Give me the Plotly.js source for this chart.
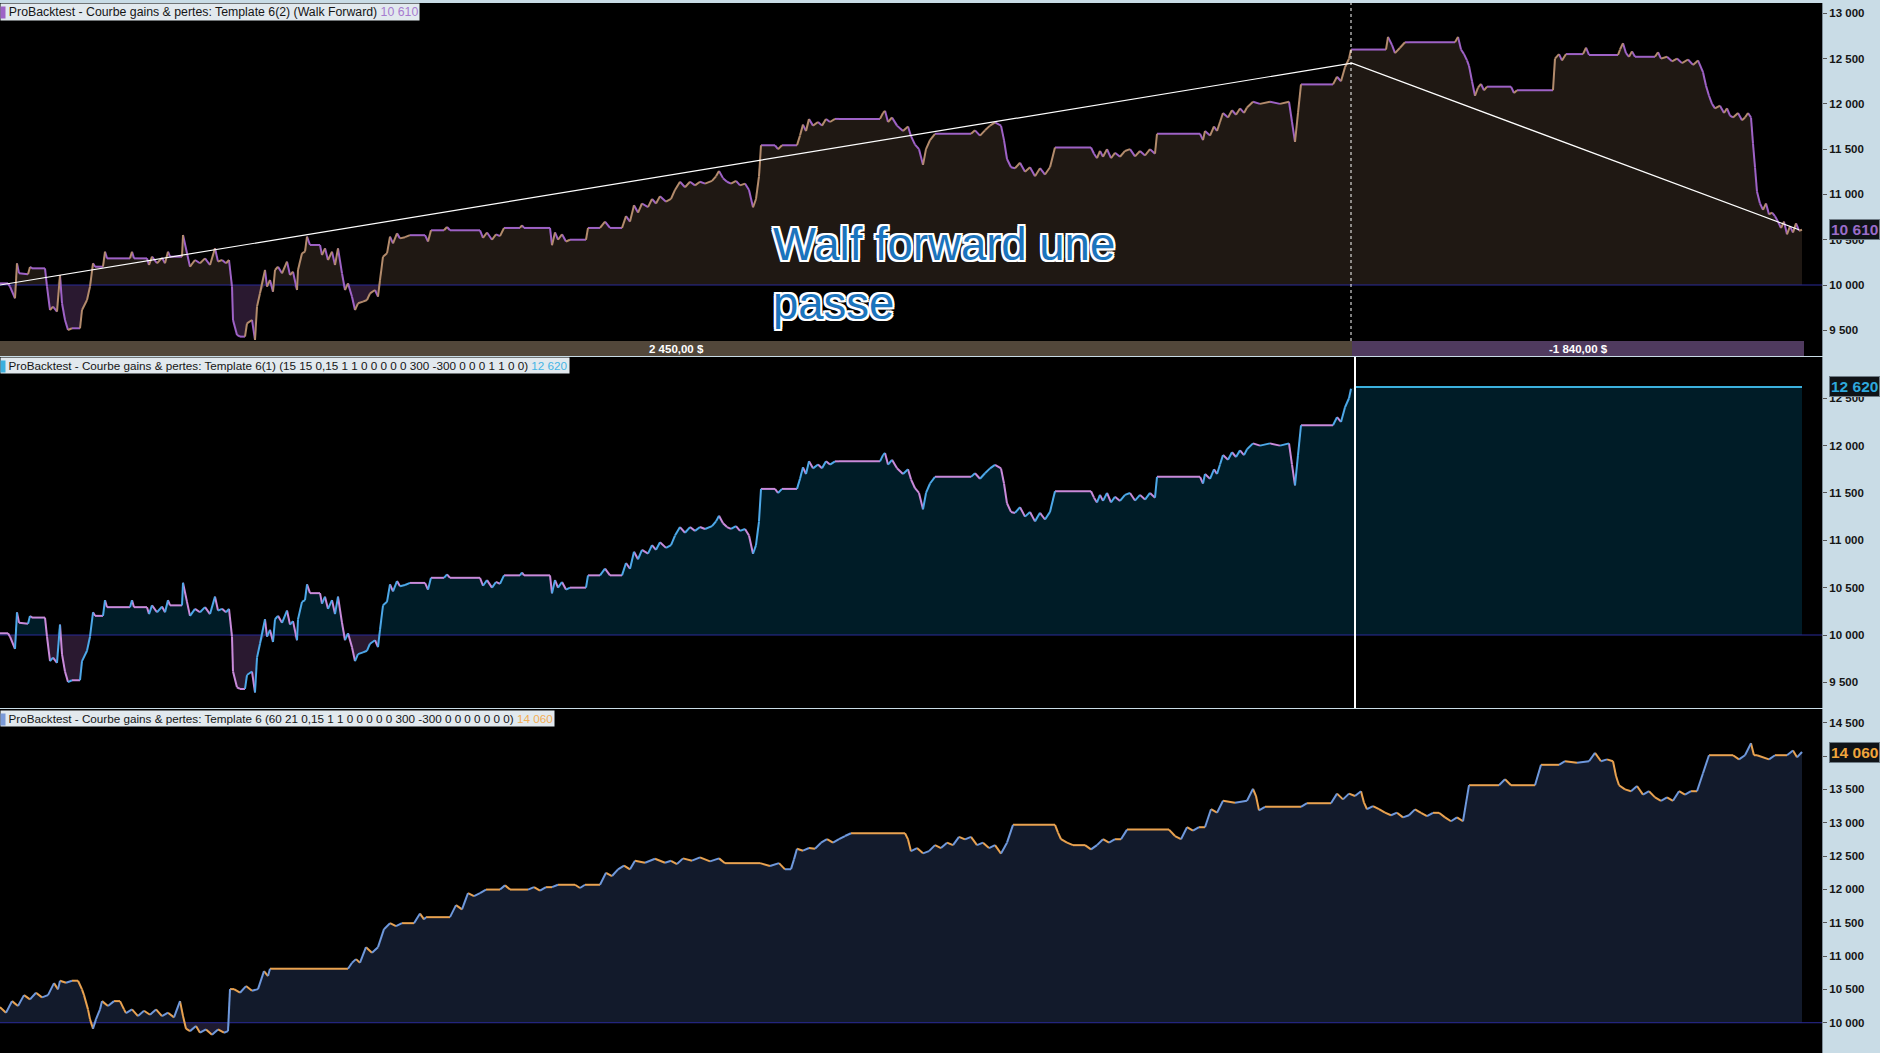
<!DOCTYPE html>
<html>
<head>
<meta charset="utf-8">
<script src="https://cdn.plot.ly/plotly-3.0.1.min.js"></script>
<style>
html,body{margin:0;padding:0;background:#C9DCE6;}
#chart{width:1880px;height:1053px;}
</style>
</head>
<body>
<div id="chart"></div>
<script>
// ---------------- DATA ----------------
const initialCapital = 10000;

// In-sample equity (shared by panel 1 and panel 2), bar index -> equity
const inSampleBars = [0,8,10,15,17,19,28,30,32,45,47,50,53,57,60,62,65,68,72,80,82,87,90,93,95,103,105,107,130,132,134,147,149,152,157,162,165,168,170,182,183,187,190,195,200,205,210,215,218,222,226,229,232,233,237,240,245,247,252,255,257,260,265,267,270,273,275,278,282,287,290,293,297,298,302,305,307,310,320,322,325,328,332,335,338,342,345,348,352,355,358,363,367,370,375,378,380,383,387,390,393,397,400,405,410,425,428,431,444,447,450,480,483,487,492,496,500,504,520,522,524,550,552,555,558,562,566,570,586,588,600,605,610,622,626,630,634,638,642,648,652,656,660,666,671,675,680,685,690,695,700,705,712,716,719,723,727,731,736,740,745,749,753,756,759,761,775,778,782,797,800,803,806,809,813,818,822,826,830,835,839,880,883,885,888,892,897,903,908,911,915,919,923,926,930,935,971,975,980,985,990,995,1001,1004,1007,1011,1015,1020,1025,1030,1035,1040,1045,1050,1055,1091,1094,1097,1100,1103,1107,1111,1115,1120,1125,1130,1135,1140,1145,1150,1155,1157,1200,1203,1205,1210,1214,1217,1220,1223,1228,1232,1236,1240,1244,1247,1253,1260,1270,1280,1289,1292,1295,1298,1301,1333,1337,1341,1345,1349,1351];
const inSampleEquity = [10018,10018,9982,9853,10239,10129,10118,10200,10184,10184,9982,9724,9761,9706,10110,9798,9614,9503,9522,9522,9724,9834,9982,10239,10202,10202,10368,10294,10294,10368,10294,10294,10221,10313,10240,10300,10240,10368,10313,10313,10552,10350,10202,10276,10240,10294,10221,10405,10258,10276,10240,10276,9982,9614,9448,9430,9430,9577,9614,9393,9761,9908,10166,9982,10055,9926,10166,10202,10129,10258,10110,10147,9945,10166,10350,10368,10534,10442,10442,10331,10405,10276,10368,10221,10405,10129,9945,10018,9871,9724,9798,9816,9834,9908,9945,9871,10055,10313,10350,10534,10460,10570,10515,10528,10550,10550,10480,10604,10604,10640,10604,10604,10520,10580,10500,10560,10540,10630,10630,10660,10630,10630,10440,10580,10500,10560,10480,10500,10500,10630,10630,10700,10630,10630,10760,10700,10880,10800,10900,10860,10950,10900,10980,10920,10950,11050,11140,11080,11140,11100,11140,11120,11150,11200,11260,11180,11140,11120,11150,11100,11120,11050,10858,10950,11200,11543,11543,11500,11543,11543,11650,11771,11700,11834,11760,11800,11760,11834,11800,11834,11834,11834,11900,11923,11800,11850,11760,11700,11750,11644,11550,11500,11327,11500,11600,11670,11670,11708,11650,11708,11760,11796,11760,11600,11391,11300,11289,11350,11250,11300,11200,11290,11220,11300,11518,11518,11450,11400,11480,11416,11500,11400,11460,11416,11480,11500,11420,11480,11430,11500,11450,11670,11670,11600,11700,11650,11750,11700,11800,11900,11850,11930,11880,11950,11900,11961,12024,12000,12024,12000,12024,11800,11580,11900,12215,12215,12300,12250,12405,12500,12600];

// Walk-forward (out-of-sample) continuation, panel 1
const walkForwardBars = [1351,1355,1386,1388,1392,1395,1400,1405,1409,1455,1458,1461,1464,1467,1469,1472,1475,1478,1481,1484,1487,1511,1514,1517,1553,1555,1559,1562,1566,1583,1586,1589,1618,1620,1623,1626,1629,1632,1635,1655,1658,1661,1667,1672,1677,1682,1688,1693,1698,1703,1706,1709,1712,1715,1720,1724,1727,1730,1733,1738,1742,1745,1748,1751,1753,1755,1757,1760,1763,1766,1769,1772,1775,1778,1781,1784,1787,1790,1793,1796,1799,1802];
const walkForwardEquity = [12600,12600,12600,12740,12650,12560,12620,12680,12680,12680,12740,12600,12550,12480,12420,12250,12090,12180,12220,12150,12190,12190,12120,12150,12150,12500,12550,12480,12550,12550,12620,12540,12540,12600,12670,12560,12520,12580,12520,12520,12570,12500,12520,12470,12500,12450,12490,12430,12480,12350,12200,12090,12000,11950,11980,11900,11950,11870,11850,11900,11820,11850,11900,11850,11560,11300,11030,10900,10830,10900,10780,10800,10760,10700,10630,10700,10560,10650,10580,10680,10600,10610];

// Panel 2: optimised parameters held after the in-sample period
const heldBars = [1355,1802];
const heldEquity = [12620,12620];

// Panel 3: Template 6 (60 21 ...)
const template6Bars = [0,6,12,18,24,30,36,42,48,54,58,60,66,72,78,82,84,88,90,93,96,100,102,108,114,120,124,126,132,138,144,150,156,162,168,174,180,183,186,190,196,200,206,212,218,224,228,230,234,240,246,252,258,264,268,270,300,348,352,356,360,366,372,378,384,390,396,402,414,420,424,426,450,456,462,468,474,480,486,500,505,510,528,534,540,546,552,558,575,580,585,600,606,612,618,624,630,635,645,655,665,671,677,683,692,700,710,719,725,735,745,760,770,779,785,791,794,797,803,809,815,821,827,833,839,845,851,905,908,911,917,923,929,935,941,947,953,959,965,971,977,983,989,995,1001,1007,1013,1055,1058,1061,1067,1073,1085,1091,1097,1103,1109,1115,1121,1127,1169,1175,1181,1187,1193,1199,1205,1211,1217,1223,1235,1247,1253,1256,1259,1265,1301,1307,1331,1337,1343,1349,1355,1361,1364,1367,1373,1379,1385,1391,1397,1403,1409,1415,1421,1427,1433,1439,1445,1451,1457,1463,1469,1499,1505,1511,1523,1535,1541,1559,1565,1577,1589,1595,1601,1607,1613,1616,1619,1625,1631,1637,1643,1649,1655,1661,1667,1673,1679,1685,1691,1697,1703,1709,1721,1733,1739,1745,1751,1754,1757,1769,1775,1787,1793,1797,1802];
const template6Equity = [10234,10150,10324,10250,10414,10350,10450,10380,10414,10594,10500,10630,10600,10630,10630,10500,10414,10200,10054,9910,10054,10200,10324,10250,10324,10324,10200,10144,10200,10100,10180,10120,10200,10100,10150,10080,10324,10100,9910,9874,9950,9850,9900,9820,9900,9850,9874,10504,10504,10450,10550,10480,10504,10774,10700,10810,10810,10810,10900,10954,10900,11133,11050,11133,11403,11493,11450,11493,11493,11637,11550,11583,11583,11763,11700,11943,11900,11943,11997,11997,12060,11997,11997,12033,11980,12033,12033,12069,12069,12020,12069,12069,12249,12200,12300,12357,12300,12429,12400,12460,12400,12429,12380,12465,12430,12480,12420,12465,12393,12393,12393,12393,12350,12393,12300,12303,12450,12609,12580,12620,12609,12700,12752,12700,12752,12800,12842,12842,12750,12573,12620,12540,12573,12663,12620,12700,12663,12788,12750,12788,12663,12700,12620,12663,12537,12700,12968,12968,12850,12752,12700,12663,12663,12600,12663,12752,12700,12752,12752,12896,12896,12800,12752,12932,12880,12932,12932,13202,13150,13328,13300,13328,13508,13400,13184,13238,13238,13292,13292,13436,13350,13436,13400,13472,13300,13202,13250,13202,13150,13112,13150,13080,13112,13200,13148,13100,13148,13148,13080,13022,13080,13022,13562,13562,13652,13562,13562,13562,13868,13868,13922,13900,13922,14048,13922,13950,13922,13700,13562,13500,13472,13550,13420,13472,13380,13328,13380,13328,13472,13420,13472,13472,13742,14012,14012,14012,13950,14012,14192,14012,14012,13950,14012,14012,14084,13980,14060];

// Walk-forward period results
const periodBounds = [0, 1352, 1804];
const periodGains = [2450, -1840];
const lastValues = [10610, 12620, 14060];
const seriesTitles = [
  'ProBacktest - Courbe gains &amp; pertes: Template 6(2) (Walk Forward)',
  'ProBacktest - Courbe gains &amp; pertes: Template 6(1) (15 15 0,15 1 1 0 0 0 0 0 300 -300 0 0 0 1 1 0 0)',
  'ProBacktest - Courbe gains &amp; pertes: Template 6 (60 21 0,15 1 1 0 0 0 0 0 300 -300 0 0 0 0 0 0 0)'
];
const noteText = 'Walf forward une<br>passe';

// ---------------- HELPERS ----------------
const FONT = 'Liberation Sans, Arial, Helvetica, sans-serif';
function fmtInt(v){ return String(Math.round(v)).replace(/\B(?=(\d{3})+(?!\d))/g,' '); }
function fmtMoney(v){
  const s = Math.abs(v).toFixed(2).split('.');
  return (v<0?'-':'') + s[0].replace(/\B(?=(\d{3})+(?!\d))/g,' ') + ',' + s[1] + ' $';
}
function fillTraces(xs, ys, aboveColor, belowColor, ya){
  const base = xs.map(()=>initialCapital);
  const common = {xaxis:'x', yaxis:ya, mode:'lines', hoverinfo:'skip', showlegend:false};
  return [
    Object.assign({x:xs, y:base, line:{width:0}}, common),
    Object.assign({x:xs, y:ys.map(v=>Math.max(v,initialCapital)), line:{width:0}, fill:'tonexty', fillcolor:aboveColor}, common),
    Object.assign({x:xs, y:base, line:{width:0}}, common),
    Object.assign({x:xs, y:ys.map(v=>Math.min(v,initialCapital)), line:{width:0}, fill:'tonexty', fillcolor:belowColor}, common)
  ];
}
function segTraces(xs, ys, upColor, downColor, ya){
  const up={x:[],y:[]}, dn={x:[],y:[]};
  for(let i=0;i<xs.length-1;i++){
    const t = ys[i+1]>ys[i] ? up : dn;
    t.x.push(xs[i],xs[i+1],null); t.y.push(ys[i],ys[i+1],null);
  }
  const mk=(d,c)=>({x:d.x,y:d.y,xaxis:'x',yaxis:ya,mode:'lines',line:{color:c,width:2},hoverinfo:'skip',showlegend:false});
  return [mk(dn,downColor), mk(up,upColor)];
}
function baseLine(ya, xEnd){
  return {x:[0,xEnd], y:[initialCapital,initialCapital], xaxis:'x', yaxis:ya, mode:'lines',
          line:{color:'#2B2B98', width:1}, hoverinfo:'skip', showlegend:false};
}

// ---------------- GEOMETRY ----------------
const W=1880, H=1053, plotRight=1822;
const py = px => 1 - px/H;
const XMAX = plotRight;

// ---------------- TRACES ----------------
const p1X = inSampleBars.concat(walkForwardBars);
const p1Y = inSampleEquity.concat(walkForwardEquity);
const p2X = inSampleBars.concat(heldBars);
const p2Y = inSampleEquity.concat(heldEquity);

let cum = initialCapital; const trendY=[initialCapital];
periodGains.forEach(g=>{cum+=g; trendY.push(cum);});
const trendX = [periodBounds[0], periodBounds[1], periodBounds[2]-5];

const traces = [].concat(
  fillTraces(p1X, p1Y, '#1F1813', '#2A1930', 'y'),
  [baseLine('y', XMAX)],
  segTraces(p1X, p1Y, '#B38B6C', '#9E62C6', 'y'),
  [{x:trendX, y:trendY, xaxis:'x', yaxis:'y', mode:'lines', line:{color:'#FFFFFF', width:1.2}, hoverinfo:'skip', showlegend:false}],

  fillTraces(p2X, p2Y, '#001C27', '#2A1930', 'y2'),
  [baseLine('y2', XMAX)],
  segTraces(inSampleBars, inSampleEquity, '#4DA8E8', '#C98ADA', 'y2'),
  [{x:heldBars, y:heldEquity, xaxis:'x', yaxis:'y2', mode:'lines', line:{color:'#3BB0DE', width:2}, hoverinfo:'skip', showlegend:false}],

  fillTraces(template6Bars, template6Equity, '#121A2B', '#1E1A30', 'y3'),
  [baseLine('y3', XMAX)],
  segTraces(template6Bars, template6Equity, '#6E98DC', '#E9A250', 'y3')
);

// ---------------- LAYOUT ----------------
const yBase = {
  side:'right', anchor:'x', showgrid:false, zeroline:false, showline:true, linecolor:'#7F8E98', linewidth:1,
  ticks:'outside', ticklen:4, tickcolor:'#555', dtick:500, tickformat:',d',
  tickfont:{family:FONT, size:11.5, color:'#151515', weight:700}, fixedrange:true
};
const layout = {
  width:W, height:H, margin:{l:0,r:0,t:0,b:0,pad:0},
  paper_bgcolor:'#C9DCE6', plot_bgcolor:'#000000',
  separators:', ', showlegend:false,
  xaxis:{domain:[0, plotRight/W], range:[0, XMAX], visible:false, fixedrange:true},
  yaxis: Object.assign({}, yBase, {domain:[py(356), py(3)], range:[9216, 13114]}),
  yaxis2:Object.assign({}, yBase, {domain:[py(708), py(357)], range:[9229, 12936]}),
  yaxis3:Object.assign({}, yBase, {domain:[0, py(709)], range:[9546, 14705]}),
  shapes:[
    {type:'rect', xref:'x', yref:'paper', x0:periodBounds[0], x1:periodBounds[1], y0:py(356), y1:py(341), fillcolor:'#52473A', line:{width:0}, layer:'above'},
    {type:'rect', xref:'x', yref:'paper', x0:periodBounds[1], x1:periodBounds[2], y0:py(356), y1:py(341), fillcolor:'#4F3A5E', line:{width:0}, layer:'above'},
    {type:'line', xref:'x', yref:'paper', x0:periodBounds[1]-1, x1:periodBounds[1]-1, y0:py(341), y1:py(3), line:{color:'#FFFFFF', width:1, dash:'3px,3px'}, layer:'above'},
    {type:'line', xref:'x', yref:'paper', x0:periodBounds[1]+3, x1:periodBounds[1]+3, y0:py(708), y1:py(357), line:{color:'#FFFFFF', width:2}, layer:'above'}
  ],
  annotations:[]
};

const legendTops = [3, 357, 710];
const legendSizes = [12.3, 11.7, 11.7];
const seriesColors = ['#A77BD0', '#45B5E5', '#F2AE55'];
const squareColors = ['#9E62C6', '#3BB0DE', '#7A9AD8'];
const labelColors = ['#9A6CC8', '#2EA8DC', '#F0A53C'];
const axNames = ['y','y2','y3'];
for(let i=0;i<3;i++){
  layout.annotations.push({
    xref:'paper', yref:'paper', x:0, y:py(legendTops[i]), xanchor:'left', yanchor:'top', showarrow:false,
    text:'&nbsp;&nbsp;'+seriesTitles[i]+' <span style="color:'+seriesColors[i]+'">'+fmtInt(lastValues[i])+'</span>',
    bgcolor:'#E2E9EE', borderpad:1, font:{family:FONT, size:legendSizes[i], color:'#151515'}
  });
  layout.annotations.push({
    xref:'paper', yref:'paper', x:0, y:py(legendTops[i]+3), xanchor:'left', yanchor:'top', showarrow:false,
    text:' ', width:4, height:11, bgcolor:squareColors[i], borderpad:0, font:{size:8}
  });
  layout.annotations.push({
    xref:'paper', yref:axNames[i], x:1, y:lastValues[i], xanchor:'right', yanchor:'middle', showarrow:false,
    text:fmtInt(lastValues[i]), bgcolor:'#0F1317', bordercolor:'#6E7C86', borderwidth:1, borderpad:1,
    font:{family:FONT, size:15.5, color:labelColors[i], weight:700}
  });
}
// period result labels
for(let k=0;k<periodGains.length;k++){
  layout.annotations.push({
    xref:'x', yref:'paper', x:(periodBounds[k]+periodBounds[k+1])/2, y:py(348.5), xanchor:'center', yanchor:'middle',
    showarrow:false, text:fmtMoney(periodGains[k]),
    font:{family:'Liberation Sans Narrow, Arial Narrow, '+FONT, size:11.5, color:'#FFFFFF', weight:700}
  });
}
// hand-written note
const w='#FFFFFF';
layout.annotations.push({
  xref:'paper', yref:'paper', x:771/W, y:py(217), xanchor:'left', yanchor:'top', align:'left', showarrow:false,
  text:noteText,
  font:{family:FONT, size:45.5, color:'#1B74BD',
        shadow:'-2px -2px 0 '+w+', 2px -2px 0 '+w+', -2px 2px 0 '+w+', 2px 2px 0 '+w+', 0 2px 0 '+w+', 0 -2px 0 '+w+', 2px 0 0 '+w+', -2px 0 0 '+w}
});

Plotly.newPlot('chart', traces, layout, {displayModeBar:false, staticPlot:true});
</script>
</body>
</html>
